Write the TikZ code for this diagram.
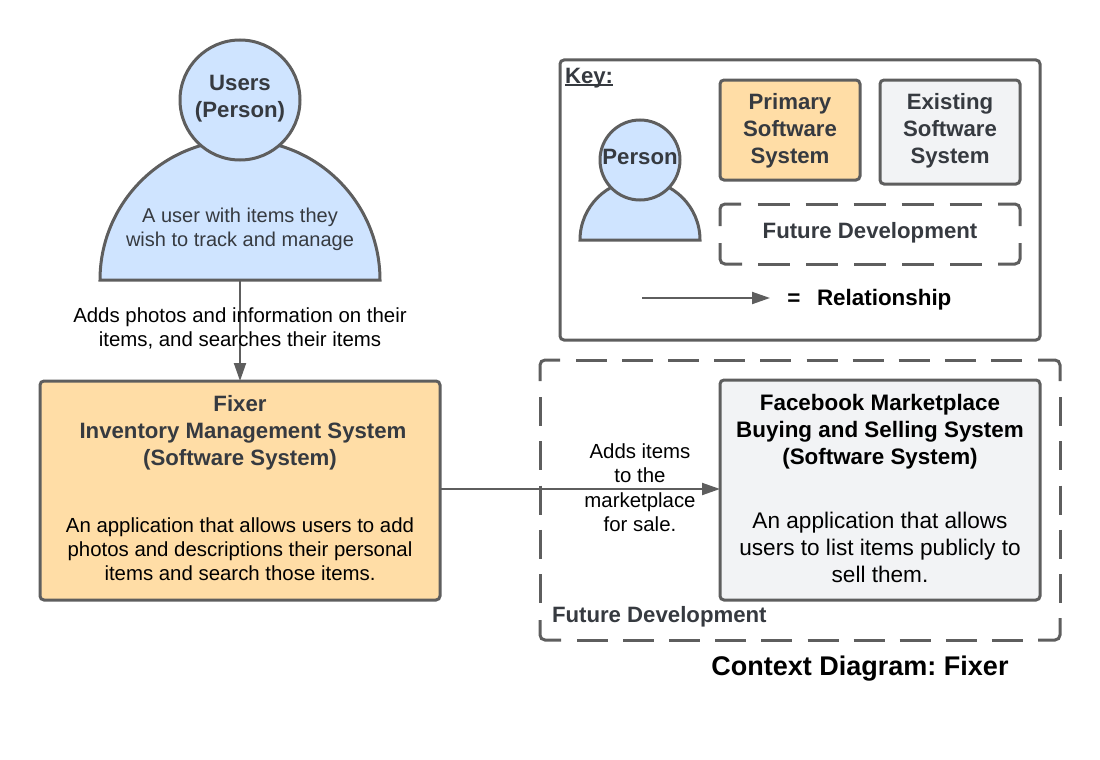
\documentclass[tikz,border=0pt]{standalone}
\usepackage{fontspec}
\setmainfont{Liberation Sans}
\usetikzlibrary{arrows.meta}
\definecolor{stk}{HTML}{5E5E5E}
\definecolor{ink}{HTML}{363A40}
\definecolor{pblue}{HTML}{CFE4FF}
\definecolor{porange}{HTML}{FFDDA6}
\definecolor{pgray}{HTML}{F2F3F5}
\newcommand{\fsz}[1]{\fontsize{#1}{#1}\selectfont}
\tikzset{
  x=1pt,y=-1pt,
  line/.style={draw=stk,line width=3pt},
  sysbox/.style={line,rounded corners=4pt,inner sep=0pt,outer sep=0pt,minimum width=#1,anchor=north west},
  dashh/.style={line,dash pattern=on 31pt off 15.1pt},
  dashv/.style={line,dash pattern=on 29pt off 15.25pt},
  dashk/.style={line,dash pattern=on 32pt off 16pt},
  cornerl/.style={line,rounded corners=5pt},
  persona/.style={line,fill=pblue,line join=miter},
  headc/.style={line,fill=pblue,circle,inner sep=0pt,outer sep=0pt,align=center,text=ink},
  txt/.style={inner sep=0pt,outer sep=0pt,align=center,text=black,text height=15pt,text depth=0pt},
  tb/.style={txt,text=ink,font=\fsz{22.2}\bfseries},
  tbk/.style={txt,font=\fsz{22.4}\bfseries},
  tn/.style={txt,font=\fsz{20.4}},
  conn/.style={draw=stk,line width=2pt,-{Triangle[length=18pt,width=12pt]}},
}
\begin{document}
\frenchspacing
\begin{tikzpicture}
\useasboundingbox (0,0) rectangle (1100,760);
\coordinate (ubase) at (240,280);
\node[sysbox=400pt,minimum height=219pt,fill=porange] (fixer) at (40,381) {};
\node[sysbox=320pt,minimum height=220pt,fill=pgray] (fb) at (720,380) {};
% ---- users person
\draw[persona] (100,280) arc[start angle=180,end angle=360,radius=140] -- cycle;
\node[headc,minimum size=120pt] (users) at (240,100) {};
\node[tb] (userst) at (240,83) {Users};
\node[tb] (usersp) at (240,110) {(Person)};
\node[txt,font=\fsz{20},text=ink] (userd1) at (240,215) {A user with items they};
\node[txt,font=\fsz{20},text=ink] (userd2) at (240,239) {wish to track and manage};
\draw[conn] (ubase) -- (fixer.north);
\node[tn] (l1a) at (240,315) {Adds photos and information on their};
\node[tn] (l1b) at (240,339) {items, and searches their items};
% ---- fixer text
\node[tb] (f1) at (240,404) {Fixer};
\node[tb] (f2) at (243,431) {Inventory Management System};
\node[tb] (f3) at (240,458) {(Software System)};
\node[tn] (f4) at (240,525) {An application that allows users to add};
\node[tn] (f5) at (240,549) {photos and descriptions their personal};
\node[tn] (f6) at (240,573) {items and search those items.};
% ---- future development frame
\draw[cornerl] (540,381) -- (540,360) -- (560,360);
\draw[cornerl] (1038,360) -- (1060,360) -- (1060,381);
\draw[cornerl] (1060,618) -- (1060,640) -- (1038,640);
\draw[cornerl] (561,640) -- (540,640) -- (540,620);
\draw[dashh] (576,360) -- (1023,360);
\draw[dashh] (577,640) -- (1024,640);
\draw[dashv] (540,397) -- (540,604);
\draw[dashv] (1060,397) -- (1060,604);
\draw[conn] ([yshift=1.5pt]fixer.east) -- ([yshift=1pt]fb.west);
\node[tn] (l2a) at (640,451) {Adds items};
\node[tn] (l2b) at (640,475) {to the};
\node[tn] (l2c) at (640,500) {marketplace};
\node[tn] (l2d) at (640,524) {for sale.};
\node[tbk] (b1) at (880,403) {Facebook Marketplace};
\node[tbk] (b2) at (880,430) {Buying and Selling System};
\node[tbk] (b3) at (880,457) {(Software System)};
\node[txt,font=\fsz{22.6}] (b4) at (880,521) {An application that allows};
\node[txt,font=\fsz{22.6}] (b5) at (880,548) {users to list items publicly to};
\node[txt,font=\fsz{22.6}] (b6) at (880,575) {sell them.};
\node[tb,anchor=west] (futl) at (552,615) {Future Development};
\node[txt,font=\fsz{27}\bfseries,text height=19pt] (title) at (860,666) {Context Diagram: Fixer};
% ---- key
\node[sysbox=480pt,minimum height=280pt] (key) at (560,60) {};
\node[tb,anchor=west] (keyt) at (565,76) {Key:};
\draw[ink,line width=1.5pt] ([yshift=-1.7pt]keyt.base west) -- ([yshift=-1.7pt]keyt.base east);
\draw[persona] (580,240) arc[start angle=180,end angle=360,radius=60] -- cycle;
\node[headc,minimum size=80pt] (keyhead) at (640,160) {};
\node[tb] (keyp) at (640,157) {Person};
\node[sysbox=140pt,minimum height=100pt,fill=porange] (kprim) at (720,80) {};
\node[tb] at (790,102) (kp1) {Primary};
\node[tb] at (790,129) (kp2) {Software};
\node[tb] at (790,156) (kp3) {System};
\node[sysbox=140pt,minimum height=104pt,fill=pgray] (kexist) at (880,80) {};
\node[tb] at (950,102) (ke1) {Existing};
\node[tb] at (950,129) (ke2) {Software};
\node[tb] at (950,156) (ke3) {System};
\draw[cornerl] (720,226) -- (720,204) -- (741,204);
\draw[cornerl] (998,204) -- (1020,204) -- (1020,226);
\draw[cornerl] (1020,243) -- (1020,264) -- (998,264);
\draw[cornerl] (742,264) -- (720,264) -- (720,243);
\draw[dashk] (757.5,204) -- (982,204);
\draw[dashk] (758,264) -- (982.5,264);
\node[tb] (kfutt) at (870,231) {Future Development};
\coordinate (ks) at (642,298);
\coordinate (ke) at (770,298);
\draw[conn] (ks) -- (ke);
\node[tbk] (keq) at (794,298) {=};
\node[tbk,anchor=west] (krel) at (817,298) {Relationship};
\end{tikzpicture}
\end{document}
